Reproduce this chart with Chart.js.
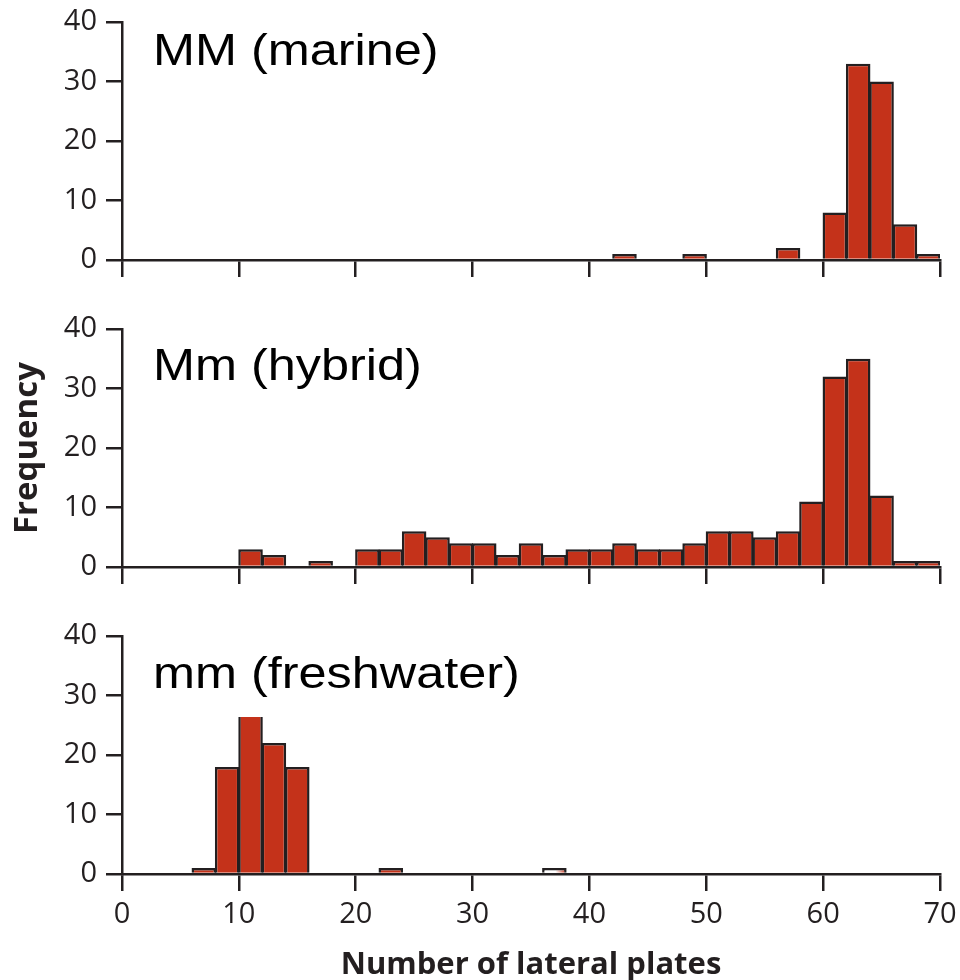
<!DOCTYPE html>
<html>
<head>
<meta charset="utf-8">
<title>Lateral plate number</title>
<script src="https://cdn.jsdelivr.net/npm/chart.js@4.4.1/dist/chart.umd.min.js"></script>
<style>
  body { margin: 0; background: #fff; }
  #wrap { position: relative; width: 960px; height: 980px; }
  canvas { position: absolute; left: 0; }
</style>
</head>
<body>
<div id="wrap">
  <canvas id="c-marine" width="960" height="307" style="top:0"></canvas>
  <canvas id="c-hybrid" width="960" height="307" style="top:307px"></canvas>
  <canvas id="c-fresh" width="960" height="366" style="top:614px"></canvas>
</div>
<script>
// lower edge of each 2-plate bin
const binStarts = [6, 8, 10, 12, 14, 16, 18, 20, 22, 24, 26, 28, 30, 32, 34, 36,
                   38, 40, 42, 44, 46, 48, 50, 52, 54, 56, 58, 60, 62, 64, 66, 68];

// counts per bin
const marine     = [0, 0, 0, 0, 0, 0, 0, 0, 0, 0, 0, 0, 0, 0, 0, 0,
                    0, 0, 1, 0, 0, 1, 0, 0, 0, 2, 0, 8, 33, 30, 6, 1];
const hybrid     = [0, 0, 3, 2, 0, 1, 0, 3, 3, 6, 5, 4, 4, 2, 4, 2,
                    3, 3, 4, 3, 3, 4, 6, 6, 5, 6, 11, 32, 35, 12, 1, 1];
const freshwater = [1, 18, 28, 22, 18, 0, 0, 0, 1, 0, 0, 0, 0, 0, 0, 1,
                    0, 0, 0, 0, 0, 0, 0, 0, 0, 0, 0, 0, 0, 0, 0, 0];

const panelLabels = ['MM (marine)', 'Mm (hybrid)', 'mm (freshwater)'];
const xTicks = [0, 10, 20, 30, 40, 50, 60, 70];
const yTicks = [0, 10, 20, 30, 40];

const INK = '#231f20';
const RED = '#c4321a';
const BIN = 2;
const TICK_FONT = { family: '"Open Sans", sans-serif', size: 29 };
const XTITLE_FONT = { family: '"Open Sans", sans-serif', size: 31, weight: 'bold' };
const YTITLE_FONT = { family: '"Open Sans", sans-serif', size: 33, weight: 'bold' };

// panel name in the upper left, on a white box
const labelPlugin = {
  id: 'panelLabel',
  afterDatasetsDraw(chart, args, opts) {
    const ctx = chart.ctx;
    ctx.save();
    ctx.font = '45px "Liberation Sans", Arial, sans-serif';
    const w = ctx.measureText(opts.text).width * 1.12;
    ctx.fillStyle = '#fff';
    ctx.fillRect(opts.x - 6, opts.y - 42, w + 12, 71);
    ctx.translate(opts.x, opts.y);
    ctx.scale(1.12, 1);
    ctx.fillStyle = '#000';
    ctx.textBaseline = 'alphabetic';
    ctx.textAlign = 'left';
    ctx.fillText(opts.text, 0, 0);
    ctx.restore();
  }
};

function makePanel(id, counts, label, labelY, opts) {
  const points = binStarts.map((b, i) => ({ x: b + BIN / 2, y: counts[i] }));
  const hollow = opts.hollow || [];
  return new Chart(document.getElementById(id), {
    type: 'bar',
    data: {
      datasets: [{
        data: points,
        backgroundColor: (c) => {
          if (c.type !== 'data') return RED;
          const b = binStarts[c.dataIndex];
          if (!hollow.includes(b)) return RED;
          const xs = c.chart.scales.x;
          const x0 = xs.getPixelForValue(b);
          const x1 = xs.getPixelForValue(b + BIN);
          if (!isFinite(x0) || !isFinite(x1)) return '#fff';
          const g = c.chart.ctx.createLinearGradient(x0, 0, x1, 0);
          g.addColorStop(0, '#fff');
          g.addColorStop(0.55, '#fff');
          g.addColorStop(1, RED);
          return g;
        },
        borderColor: INK,
        borderWidth: 2.5,
        barPercentage: 1.05,
        categoryPercentage: 1
      }]
    },
    options: {
      responsive: false,
      animation: false,
      layout: { padding: { top: 22, right: 20, left: 0, bottom: 0 } },
      plugins: {
        legend: { display: false },
        tooltip: { enabled: false },
        panelLabel: { text: label, x: 153, y: labelY }
      },
      scales: {
        x: {
          type: 'linear',
          min: 0,
          max: 70,
          offset: false,
          afterBuildTicks: (s) => { s.ticks = xTicks.map(v => ({ value: v })); },
          afterFit: (s) => {
            s.height = opts.xHeight;
            s.paddingLeft = 0;
            s.paddingRight = 0;
          },
          grid: { offset: false, drawOnChartArea: false, drawTicks: true, tickLength: 17, color: INK, lineWidth: 2.5 },
          border: { display: true, color: INK, width: 2.5 },
          ticks: {
            display: !!opts.xLabels,
            padding: 6,
            color: INK,
            font: TICK_FONT
          },
          title: {
            display: !!opts.xTitle,
            text: opts.xTitle || '',
            color: INK,
            padding: { top: 0, bottom: -4 },
            font: XTITLE_FONT
          }
        },
        y: {
          min: 0,
          max: 40,
          afterBuildTicks: (s) => { s.ticks = yTicks.map(v => ({ value: v })); },
          afterFit: (s) => {
            s.width = 122;
            s.paddingTop = 0;
            s.paddingBottom = 0;
          },
          grid: { drawOnChartArea: false, drawTicks: true, tickLength: 16, color: INK, lineWidth: 2.5 },
          border: { display: true, color: INK, width: 2.5 },
          ticks: {
            padding: 9,
            color: INK,
            font: TICK_FONT
          },
          title: {
            display: !!opts.yTitle,
            text: opts.yTitle || '',
            color: INK,
            padding: { top: 8, bottom: 0 },
            font: YTITLE_FONT
          }
        }
      }
    },
    plugins: [labelPlugin]
  });
}

makePanel('c-marine', marine, panelLabels[0], 65, { xHeight: 47 });
makePanel('c-hybrid', hybrid, panelLabels[1], 73, { xHeight: 47, yTitle: 'Frequency' });
makePanel('c-fresh', freshwater, panelLabels[2], 74,
  { xHeight: 106, xLabels: true, xTitle: 'Number of lateral plates', hollow: [36] });
</script>
</body>
</html>
